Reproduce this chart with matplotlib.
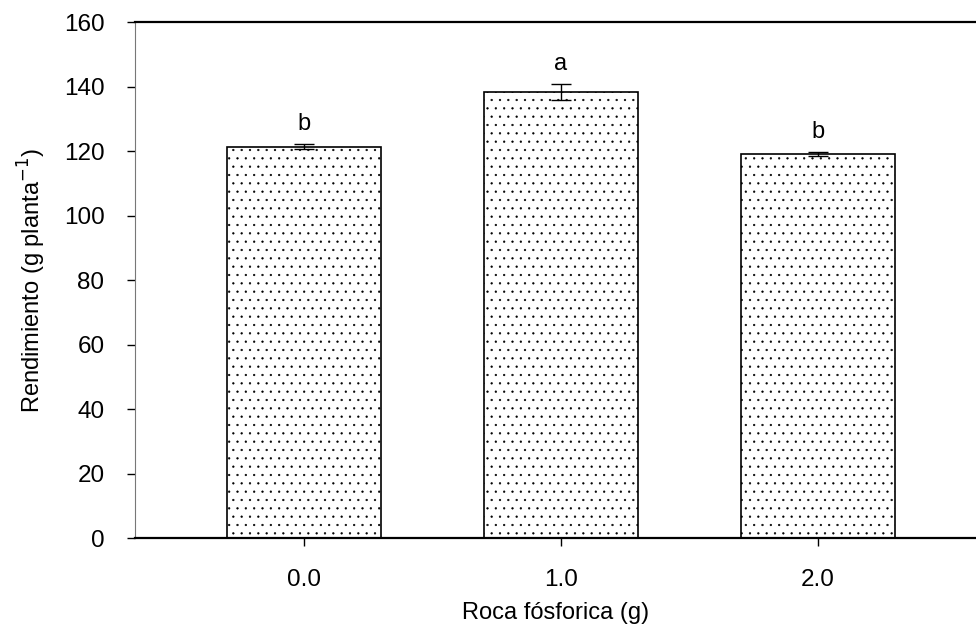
import matplotlib
matplotlib.use('Agg')
import matplotlib.pyplot as plt

# Data
doses = ['0.0', '1.0', '2.0']
rendimiento = [121.3, 138.3, 119.0]
error = [0.8, 2.4, 0.6]
letras = ['b', 'a', 'b']

plt.rcParams['font.family'] = ['Liberation Sans', 'DejaVu Sans']
plt.rcParams['hatch.linewidth'] = 0.4
plt.rcParams['hatch.color'] = '#222222'

fig = plt.figure(figsize=(9.76, 6.30), dpi=100)
ax = fig.add_axes([0.1383, 0.146, 0.8617, 0.819])

x = range(len(doses))
ax.bar(x, rendimiento, width=0.6, color='white', edgecolor='black',
       linewidth=1.2, hatch='..')
ax.errorbar(x, rendimiento, yerr=error, fmt='none', ecolor='black',
            elinewidth=1.0, capsize=7, capthick=1.0)

for i, (v, e, l) in enumerate(zip(rendimiento, error, letras)):
    ax.text(i, v + e + 3, l, ha='center', va='bottom', fontsize=17)

ax.set_xlim(-0.656, 2.615)
ax.set_ylim(0, 160)
ax.set_xticks(list(x))
ax.set_xticklabels(doses)
ax.set_yticks(range(0, 161, 20))

ax.spines['right'].set_visible(False)
ax.spines['left'].set_color('#777777')
for s in ['top', 'bottom']:
    ax.spines[s].set_linewidth(1.6)
ax.tick_params(direction='out', length=6, width=1.0, labelsize=17.5)
ax.tick_params(axis='x', pad=16)
ax.tick_params(axis='y', pad=16)

ax.set_xlabel('Roca fósforica (g)', fontsize=17, labelpad=8)
ax.set_ylabel('Rendimiento (g planta$^{-1}$)', fontsize=17, labelpad=11)

plt.savefig('out.png', dpi=100)
